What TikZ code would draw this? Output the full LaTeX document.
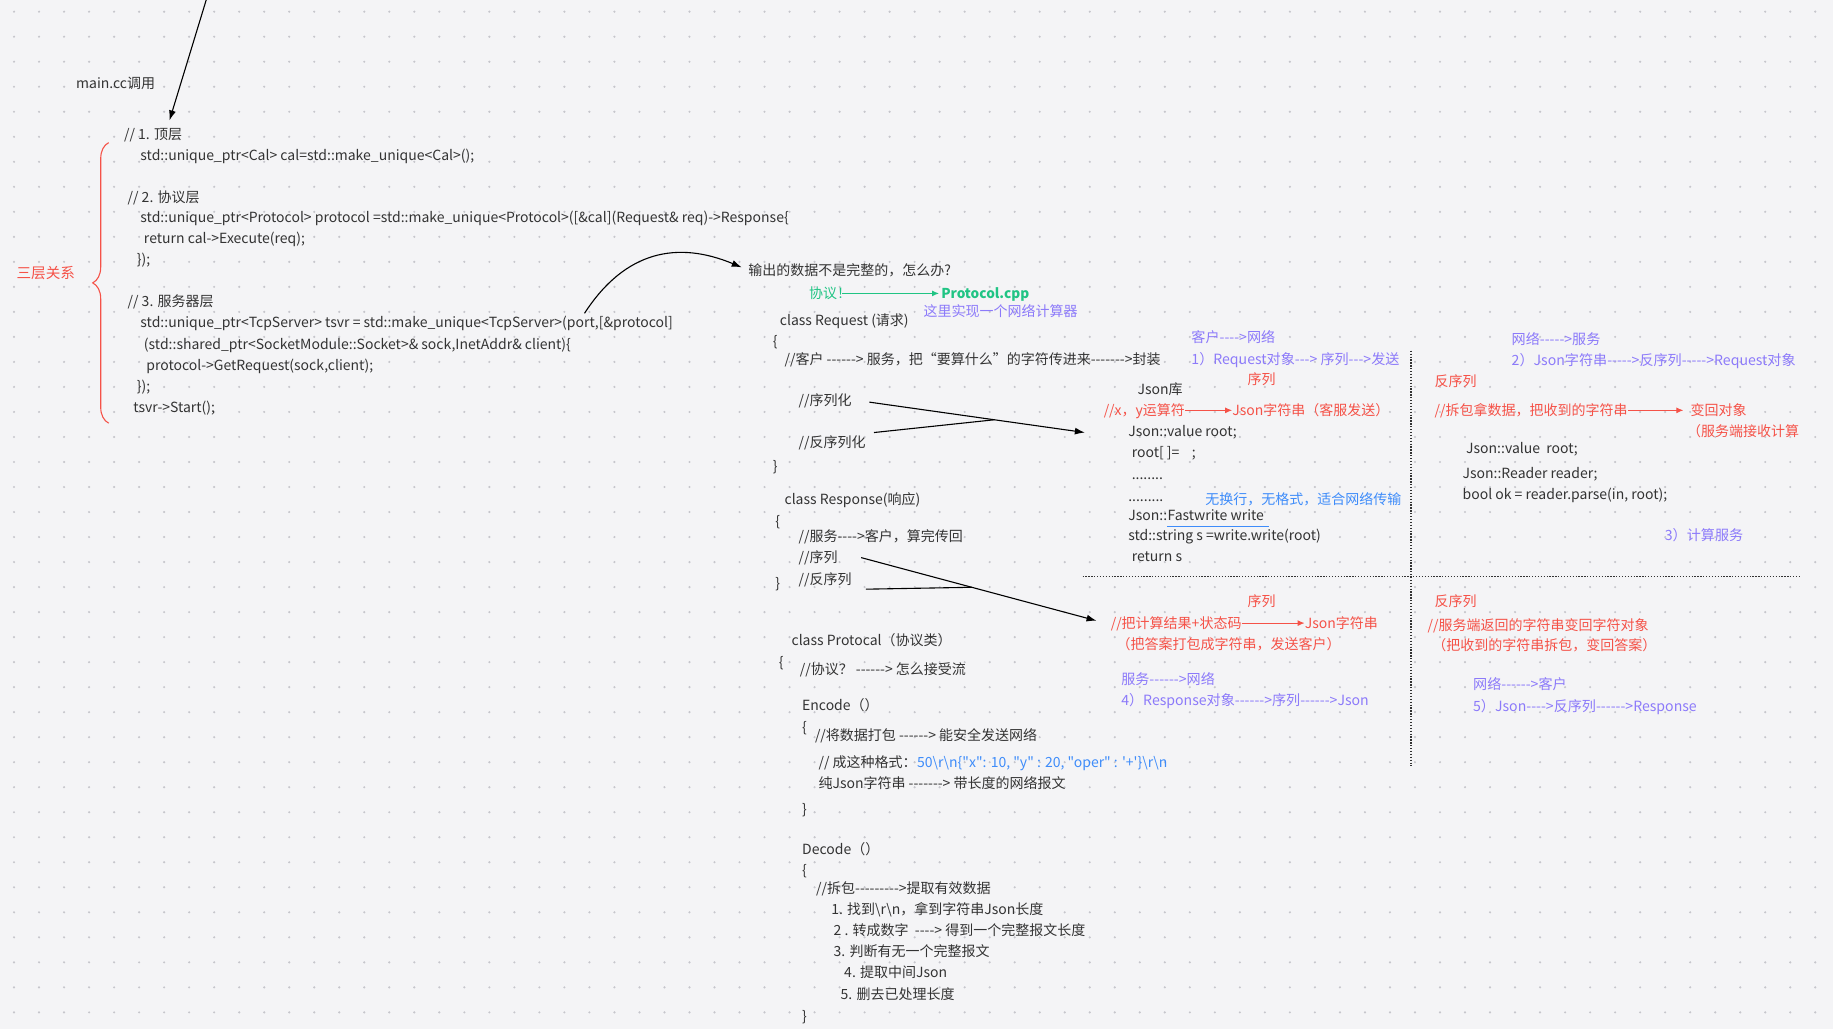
\documentclass[tikz,border=0pt]{standalone}
\usepackage{fontspec}
\setmainfont{Noto Sans CJK SC}[Ligatures=TeXOff]
\usetikzlibrary{arrows.meta, calc, positioning, decorations.pathreplacing}
\definecolor{bgc}{RGB}{244,244,246}
\definecolor{dotc}{RGB}{198,198,204}
\definecolor{ink}{RGB}{51,51,51}
\definecolor{redc}{RGB}{245,82,72}
\definecolor{purc}{RGB}{140,122,250}
\definecolor{bluc}{RGB}{62,140,250}
\definecolor{grnc}{RGB}{32,196,132}

\begin{document}
\begin{tikzpicture}[x=1.169pt, y=-1.169pt,
  txt/.style={anchor=west, inner sep=0pt, text height=12.4pt, text depth=1.7pt,
    font=\fontsize{14}{17}\selectfont, text=ink},
  ptxt/.style={txt, text=purc, font=\fontsize{14.1}{17}\selectfont},
  rtxt/.style={txt, text=redc, font=\fontsize{14}{17}\selectfont},
  btxt/.style={txt, text=bluc, font=\fontsize{14}{17}\selectfont},
  gtxt/.style={txt, text=grnc, font=\fontsize{14}{17}\selectfont},
  arr/.style={draw=black, line width=1.1pt, -{Latex[length=10pt,width=7pt]}},
  rarr/.style={draw=redc, line width=1.1pt, -{Latex[length=7pt,width=6pt]}},
  garr/.style={draw=grnc, line width=1.1pt, -{Latex[length=7pt,width=6pt]}},
  sepline/.style={draw=ink, line width=1.3pt, dash pattern=on 1.3pt off 1.6pt}]

% background
\fill[bgc] (0,0) rectangle (1568,880);
\useasboundingbox (0,0) rectangle (1568,880);
\foreach \i in {0,...,73}
  \foreach \j in {0,...,41}
    \fill[dotc] (12+\i*21.4, 10+\j*21.4) circle (1.2pt);

% main.cc
\coordinate (top) at (177,-2);
\coordinate (mainend) at (145,103);
\node[txt] (maincc) at (65,71) {main.cc调用};
\draw[arr] (top) -- (mainend);

% three layers
\node[rtxt, font=\fontsize{14.6}{17}\selectfont] (three) at (14,234) {三层关系};
\draw[redc, line width=1.1pt, decorate, decoration={brace, amplitude=16pt}] (93,362) -- (93,122);
\node[txt] (l1) at (106,115) {// 1. 顶层};
\node[txt] (l1a) at (120,133) {std::unique\_ptr<Cal> cal=std::make\_unique<Cal>();};
\node[txt] (l2) at (109,169) {// 2. 协议层};
\node[txt] (l2a) at (120,186) {std::unique\_ptr<Protocol> protocol =std::make\_unique<Protocol>([\&cal](Request\& req)->Response\{};
\node[txt] (l2b) at (123,204) {return cal->Execute(req);};
\node[txt] (l2c) at (117,222) {\});};
\node[txt] (l3) at (109,258) {// 3. 服务器层};
\node[txt] (l3a) at (120,276) {std::unique\_ptr<TcpServer> tsvr = std::make\_unique<TcpServer>(port,[\&protocol]};
\node[txt] (l3b) at (123,294) {(std::shared\_ptr<SocketModule::Socket>\& sock,InetAddr\& client)\{};
\node[txt] (l3c) at (125,312) {protocol->GetRequest(sock,client);};
\node[txt] (l3d) at (117,330) {\});};
\node[txt] (l3e) at (114,348) {tsvr->Start();};

% question
\coordinate (pstart) at (500,268);
\node[txt] (quest) at (640,231) {输出的数据不是完整的，怎么办?};
\draw[arr, shorten >=7pt] (pstart) .. controls (535,214) and (580,206) .. (quest.west);
\node[gtxt] (xieyi) at (692,251) {协议！};
\node[gtxt, font=\fontsize{13.6}{17}\selectfont\bfseries] (pcpp) at (805,251) {Protocol.cpp};
\draw[garr, shorten >=2pt] ($(xieyi.east)+(-8,0)$) -- (pcpp.west);
\node[ptxt, font=\fontsize{14}{17}\selectfont] (calc) at (790,266) {这里实现一个网络计算器};

% request
\node[txt] (req) at (667,274) {class Request (请求)};
\node[txt] (reqo) at (661,292) {\{};
\node[txt] (reqc) at (671,307) {//客户 ------> 服务，把“要算什么”的字符传进来------->封装};
\node[txt] (ser) at (683,342) {//序列化};
\node[txt] (deser) at (683,378) {//反序列化};
\node[txt] (reqe) at (661,399) {\}};
\coordinate (sertip) at (928,370);
\coordinate (serstart) at ($(ser.east)+(15,2)$);
\draw[arr] (serstart) -- (sertip);
\draw[line width=1.1pt] ($(deser.east)+(7,-8)$) -- ($(serstart)!0.58!(sertip)$);

% response
\node[txt] (resp) at (671,427) {class Response(响应)};
\node[txt] (respo) at (663,446) {\{};
\node[txt] (respc) at (683,459) {//服务---->客户，算完传回};
\node[txt] (rser) at (683,477) {//序列};
\node[txt] (rdeser) at (683,495) {//反序列};
\node[txt] (respe) at (663,499) {\}};

% json lib
\node[txt] (jlib) at (973,333) {Json库};
\node[rtxt] (xyop) at (944,351) {//x，y运算符};
\node[rtxt] (jstr) at (1054,351) {Json字符串（客服发送）};
\draw[rarr] (xyop.east) -- (jstr.west);
\node[txt] (jv) at (965,369) {Json::value root;};
\node[txt] (jroot) at (968,387) {root[ ]=\ \ \ \ ;};
\node[txt] (jd1) at (968,406) {........};
\node[txt] (jd2) at (965,424) {.........};
\node[btxt] (nofmt) at (1031,427) {无换行，无格式，适合网络传输};
\node[txt] (jfw) at (965,441) {Json::};
\node[txt, right=0pt of jfw] (fw) {Fastwrite write};
\draw[bluc, line width=1.5pt] ($(fw.south west)+(0,3)$) -- ($(fw.south east)+(4,3)$);
\node[txt] (jss) at (965,458) {std::string s =write.write(root)};
\node[txt] (jret) at (968,476) {return s};

% client -> net
\node[ptxt] (c2n) at (1019,288) {客户---->网络};
\node[ptxt] (st1) at (1019,307) {1）Request对象---> 序列--->发送};
\node[rtxt] (xl1) at (1067,324) {序列};

% separators
\draw[sepline] (1207,300) -- (1207,655);
\draw[sepline] (926,493) -- (1540,493);

% net -> server
\node[ptxt] (n2s) at (1293,290) {网络----->服务};
\node[ptxt] (st2) at (1293,308) {2）Json字符串----->反序列----->Request对象};
\node[rtxt] (fxl1) at (1227,326) {反序列};
\node[rtxt] (unp) at (1227,351) {//拆包拿数据，把收到的字符串};
\node[rtxt] (bhdx) at (1446,351) {变回对象};
\draw[rarr, shorten >=7pt] (unp.east) -- (bhdx.west);
\node[rtxt] (fwd) at (1443,369) {（服务端接收计算};
\node[txt] (jv2) at (1254,383) {Json::value\ \ root;};
\node[txt] (jrd) at (1251,405) {Json::Reader reader;};
\node[txt] (jok) at (1251,423) {bool ok = reader.parse(in, root);};
\node[ptxt] (st3) at (1424,458) {3）计算服务};

% server -> net
\node[rtxt] (xl2) at (1067,514) {序列};
\node[rtxt] (pres) at (950,533) {//把计算结果+状态码};
\node[rtxt] (jstr2) at (1116,533) {Json字符串};
\draw[rarr] (pres.east) -- (jstr2.west);
\node[rtxt] (pack) at (955,551) {（把答案打包成字符串，发送客户）};
\node[ptxt] (s2n) at (959,581) {服务------>网络};
\node[ptxt] (st4) at (959,599) {4）Response对象------>序列------>Json};
\coordinate (rtip) at ($(pres.west)+(-12,-2)$);
\coordinate (rstart) at ($(rser.east)+(20,0)$);
\draw[arr] (rstart) -- (rtip);
\draw[line width=1.1pt] ($(rdeser.east)+(12,9)$) -- ($(rstart)!0.47!(rtip)$);

% net -> client
\node[rtxt] (fxl2) at (1227,514) {反序列};
\node[rtxt] (sret) at (1221,535) {//服务端返回的字符串变回字符对象};
\node[rtxt] (sret2) at (1225,552) {（把收到的字符串拆包，变回答案）};
\node[ptxt] (n2c) at (1260,585) {网络------>客户};
\node[ptxt] (st5) at (1260,604) {5）Json---->反序列------>Response};

% protocol
\node[txt] (proto) at (677,548) {class Protocal（协议类）};
\node[txt] (protoo) at (666,566) {\{};
\node[txt] (pq) at (684,572) {//协议？ ------> 怎么接受流};
\node[txt] (enc) at (686,603) {Encode（）};
\node[txt] (enco) at (686,622) {\{};
\node[txt] (encc) at (697,629) {//将数据打包 ------> 能安全发送网络};
\node[txt] (fmt) at (700,652) {// 成这种格式：};
\node[btxt, right=0pt of fmt] (fmtv) {50\textbackslash r\textbackslash n\{"x": 10, "y" : 20, "oper" : '+'\}\textbackslash r\textbackslash n};
\node[txt] (pure) at (700,670) {纯Json字符串 -------> 带长度的网络报文};
\node[txt] (ence) at (686,692) {\}};
\node[txt] (dec) at (686,726) {Decode（）};
\node[txt] (deco) at (686,744) {\{};
\node[txt] (d0) at (698,760) {//拆包--------->提取有效数据};
\node[txt] (d1) at (711,778) {1. 找到\textbackslash r\textbackslash n，拿到字符串Json长度};
\node[txt] (d2) at (713,796) {2 . 转成数字\ \ ----> 得到一个完整报文长度};
\node[txt] (d3) at (713,814) {3. 判断有无一个完整报文};
\node[txt] (d4) at (722,832) {4. 提取中间Json};
\node[txt] (d5) at (719,850) {5. 删去已处理长度};
\node[txt] (dece) at (686,869) {\}};
\end{tikzpicture}
\end{document}
